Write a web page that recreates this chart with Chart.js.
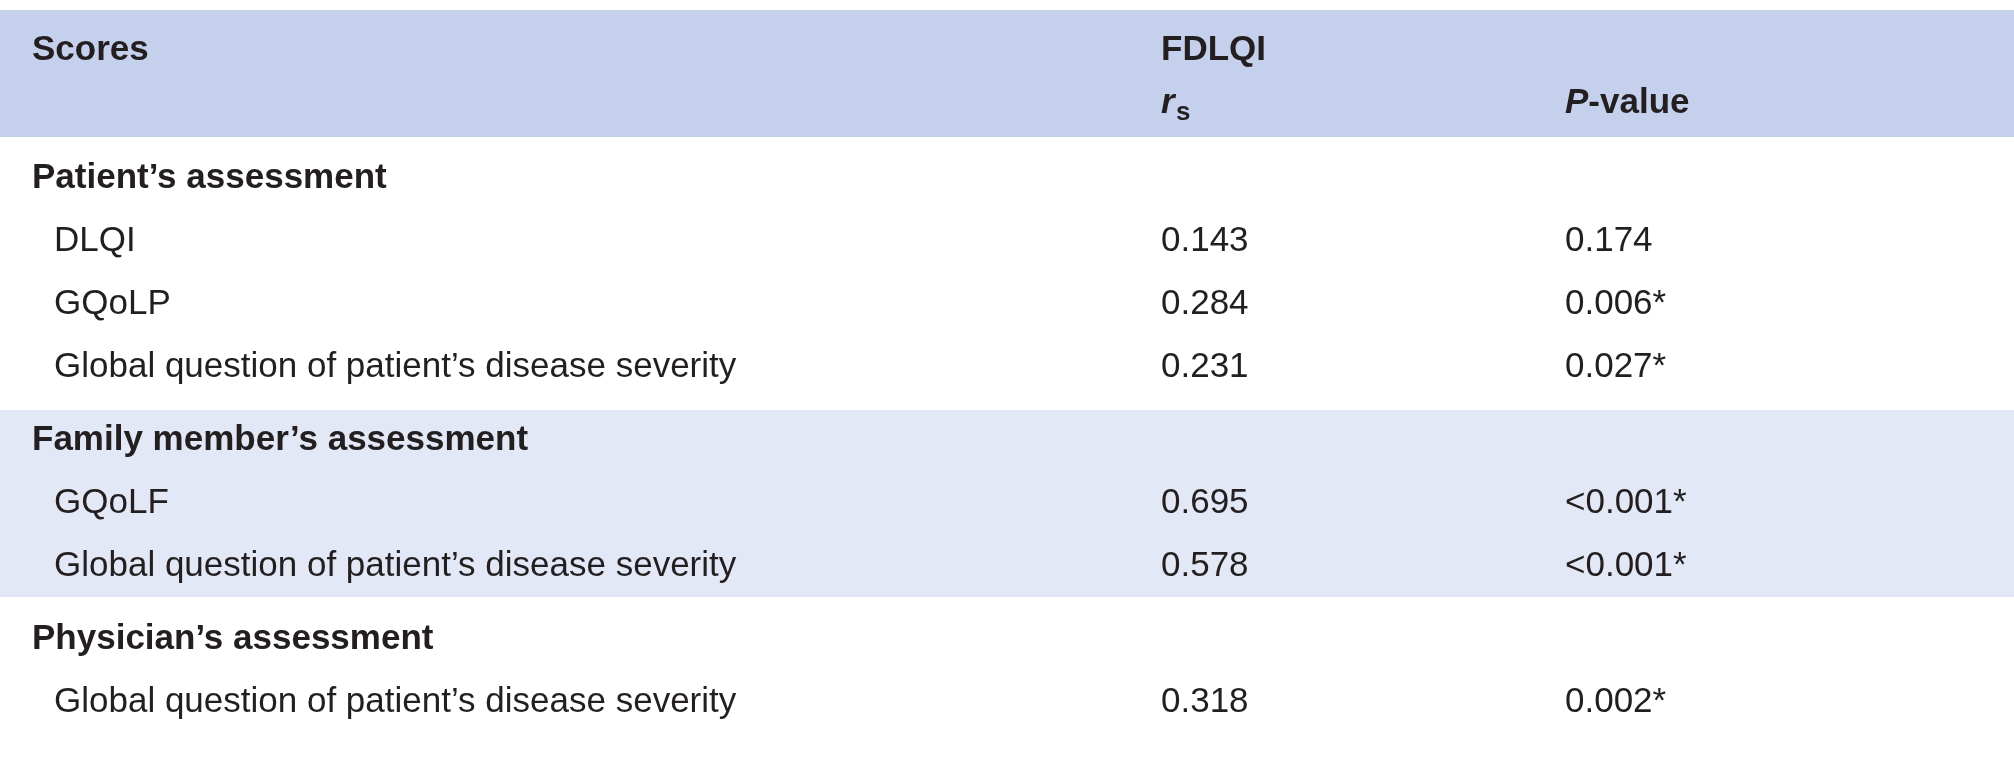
<!DOCTYPE html>
<html>
<head>
<meta charset="utf-8">
<script src="https://cdn.jsdelivr.net/npm/chart.js@4"></script>
<style>
  html, body { margin: 0; padding: 0; background: #fff; }
</style>
</head>
<body>
<canvas id="tbl" width="2014" height="760"></canvas>
<script>
// table content
var groups = ["Patient\u2019s assessment", "Family member\u2019s assessment", "Physician\u2019s assessment"];
var items = [
  ["DLQI", "GQoLP", "Global question of patient\u2019s disease severity"],
  ["GQoLF", "Global question of patient\u2019s disease severity"],
  ["Global question of patient\u2019s disease severity"]
];
var rsValues = [["0.143", "0.284", "0.231"], ["0.695", "0.578"], ["0.318"]];
var pValues = [["0.174", "0.006*", "0.027*"], ["<0.001*", "<0.001*"], ["0.002*"]];

// layout (in scale units = pixels)
var groupY = [178, 440, 639];
var rowStep = 63;
var bands = [[10, 137, '#c5d0ec'], [410, 597, '#e3e8f6']];
var colX = { label: 32, item: 54, rs: 1161, p: 1565 };
var ink = '#231f20';
var fam = '"Liberation Sans", Arial, sans-serif';

var tablePlugin = {
  id: 'tablePlugin',
  beforeDraw: function (chart) {
    var c = chart.ctx, xs = chart.scales.x, ys = chart.scales.y;
    c.save();
    bands.forEach(function (b) {
      c.fillStyle = b[2];
      c.fillRect(xs.getPixelForValue(0), ys.getPixelForValue(b[0]), xs.getPixelForValue(2014) - xs.getPixelForValue(0), ys.getPixelForValue(b[1]) - ys.getPixelForValue(b[0]));
    });
    c.fillStyle = ink;
    c.textBaseline = 'middle';
    c.textAlign = 'left';
    // header
    c.font = 'bold 35px ' + fam;
    c.fillText('Scores', xs.getPixelForValue(colX.label), ys.getPixelForValue(50));
    c.fillText('FDLQI', xs.getPixelForValue(colX.rs), ys.getPixelForValue(50));
    c.font = 'italic bold 35px ' + fam;
    c.fillText('r', xs.getPixelForValue(colX.rs), ys.getPixelForValue(103));
    var pw = c.measureText('P').width;
    c.fillText('P', xs.getPixelForValue(colX.p), ys.getPixelForValue(103));
    c.font = 'bold 26px ' + fam;
    c.fillText('s', xs.getPixelForValue(colX.rs + 15), ys.getPixelForValue(113));
    c.font = 'bold 35px ' + fam;
    c.fillText('-value', xs.getPixelForValue(colX.p) + pw, ys.getPixelForValue(103));
    // body
    groups.forEach(function (g, gi) {
      c.font = 'bold 35px ' + fam;
      c.fillText(g, xs.getPixelForValue(colX.label), ys.getPixelForValue(groupY[gi]));
      c.font = '35px ' + fam;
      items[gi].forEach(function (it, i) {
        var y = ys.getPixelForValue(groupY[gi] + rowStep * (i + 1));
        c.fillText(it, xs.getPixelForValue(colX.item), y);
        c.fillText(rsValues[gi][i], xs.getPixelForValue(colX.rs), y);
        c.fillText(pValues[gi][i], xs.getPixelForValue(colX.p), y);
      });
    });
    c.restore();
  }
};

new Chart(document.getElementById('tbl').getContext('2d'), {
  type: 'scatter',
  data: { datasets: [{ data: [] }] },
  options: {
    responsive: false,
    animation: false,
    layout: { padding: 0 },
    plugins: { legend: { display: false }, tooltip: { enabled: false } },
    scales: {
      x: { type: 'linear', min: 0, max: 2014, display: false },
      y: { type: 'linear', min: 0, max: 760, reverse: true, display: false }
    }
  },
  plugins: [tablePlugin]
});
</script>
</body>
</html>
